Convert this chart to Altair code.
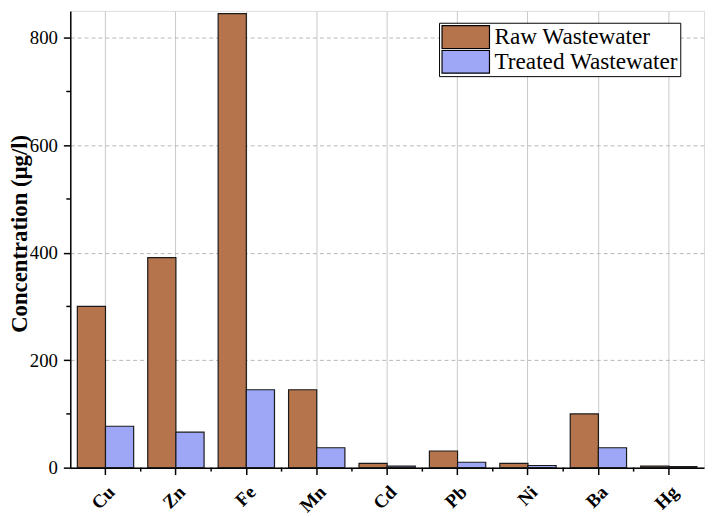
import altair as alt
import pandas as pd

metals = ["Cu", "Zn", "Fe", "Mn", "Cd", "Pb", "Ni", "Ba", "Hg"]
raw = [300, 391, 845, 145, 8, 31, 8, 100, 3]
treated = [77, 66, 145, 37, 3, 10, 4, 37, 2]
series = ["Raw Wastewater", "Treated Wastewater"]
minor_y = [100, 300, 500, 700]

rows = []
for m, r, t in zip(metals, raw, treated):
    rows.append({"metal": m, "series": series[0], "value": r})
    rows.append({"metal": m, "series": series[1], "value": t})
df = pd.DataFrame(rows)

FONT = "Liberation Serif"
W, H = 641, 462
LEFT = 63
STEP = W / 9

xscale = alt.Scale(domain=metals, paddingInner=0.2, paddingOuter=0.1)
yscale = alt.Scale(domain=[0, 850], nice=False)

bars = alt.Chart(df).mark_bar(stroke="#1a1a1a", strokeWidth=1.2).encode(
    x=alt.X("metal:N", scale=xscale, sort=metals, title=None,
            axis=alt.Axis(labelAngle=-45, labelFont=FONT, labelFontSize=19,
                          labelFontWeight="bold", labelColor="black",
                          domainColor="black", domainWidth=1.5,
                          tickColor="black", tickSize=7, tickWidth=1.5,
                          labelPadding=8,
                          grid=True, gridColor="#c8c8c8", gridWidth=1,
                          bandPosition=0.5)),
    xOffset=alt.XOffset("series:N", sort=series),
    y=alt.Y("value:Q", scale=yscale, title="Concentration (µg/l)",
            axis=alt.Axis(values=[0, 200, 400, 600, 800], labelFont=FONT,
                          labelFontSize=19, labelColor="black",
                          titleFont=FONT, titleFontSize=23, titleFontWeight="bold",
                          titleColor="black", titleX=-(LEFT + 8 - 20),
                          titleY=H / 2 - 6,
                          titleBaseline="middle", titleAngle=270,
                          domainColor="black", domainWidth=1.5,
                          tickColor="black", tickSize=7, tickWidth=1.5,
                          labelPadding=6,
                          grid=True, gridColor="#b8b8b8", gridDash=[4, 3],
                          gridWidth=1)),
    color=alt.Color("series:N", sort=series,
                    scale=alt.Scale(domain=series, range=["#B5744C", "#9EA6F6"]),
                    legend=alt.Legend(title=None, orient="none",
                                      legendX=444 - 8 - LEFT, legendY=12,
                                      labelFont=FONT, labelFontSize=23.5,
                                      labelColor="black", labelLimit=0,
                                      symbolType="M-1,-0.48H1V0.48H-1Z",
                                      symbolSize=2304, symbolStrokeColor="black",
                                      symbolStrokeWidth=1.2, symbolOpacity=1,
                                      clipHeight=25, rowPadding=0,
                                      labelOffset=4,
                                      fillColor="white", strokeColor="black",
                                      padding=2, cornerRadius=0)),
)

minor = alt.Chart(pd.DataFrame({"v": minor_y})).mark_rule(
    color="black", strokeWidth=1.5
).encode(
    y=alt.Y("v:Q", scale=yscale),
    x=alt.value(-4), x2=alt.value(0),
)

xminor = alt.Chart(pd.DataFrame({"metal": metals[1:]})).mark_rule(
    color="black", strokeWidth=1.5, xOffset=-0.1 * STEP
).encode(
    x=alt.X("metal:N", scale=xscale, sort=metals, bandPosition=0),
    y=alt.value(H), y2=alt.value(H + 4),
)

chart = alt.layer(bars, minor, xminor).properties(
    width=W, height=H,
    autosize=alt.AutoSizeParams(type="none"),
    padding={"left": LEFT, "top": 0, "right": 1, "bottom": 47},
).configure_view(
    stroke="black", strokeWidth=1.5
).configure(background="white")

chart.save("out.html", embed_options={"renderer": "svg", "actions": False})
